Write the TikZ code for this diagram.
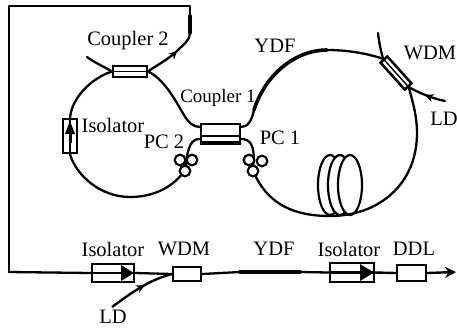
\documentclass[tikz,border=0pt]{standalone}
\usepackage{fontspec}
\setmainfont{Liberation Serif}
\usetikzlibrary{arrows.meta,decorations.markings}
\tikzset{
 fib/.style={line width=2.3pt,line cap=round,line join=round},
 thickfib/.style={line width=3.6pt,line cap=round},
 box/.style={draw,line width=2.4pt,fill=white,inner sep=0pt,minimum width=#1},
 box/.default=30pt,
 lab/.style={font=\fontsize{20.5}{21}\selectfont,inner sep=0pt},
 pc/.style={circle,draw,line width=2pt,fill=white,minimum size=10.5pt,inner sep=0pt},
 coil/.style={draw,line width=2.2pt,fill=white},
 tipmid/.style={postaction={decorate},decoration={markings,mark=at position #1 with {\arrow{Stealth[length=9pt,width=8pt]}}}}
}
\begin{document}
\begin{tikzpicture}[x=1pt,y=-1pt]
\useasboundingbox (0,0) rectangle (457,327);
% coordinates
\coordinate (outA) at (9,272);
\coordinate (outB) at (9,6);
\coordinate (outC) at (190,6);
\coordinate (outD) at (190,33);
\coordinate (tailC) at (87,57);
\coordinate (wdmtail) at (378,33);
\coordinate (ldR) at (445,101);
\coordinate (ldB) at (112,307);
\coordinate (outEnd) at (456,272);
\coordinate (yS) at (240,272);
\coordinate (yE) at (300,272);
% coil
\foreach \cx in {330,340,350}{
 \draw[coil] (\cx,185) ellipse [x radius=12,y radius=30];
}
% boxes
\node[box=34pt,minimum height=11pt] (c2) at (130,71.5) {};
\node[box=39pt,minimum height=18pt] (c1) at (220.5,133) {};
\node[box=14pt,minimum height=34pt] (iso) at (70,136) {};
\node[box=36pt,minimum height=9pt,rotate=-48] (wdm) at (396,73) {};
\node[box=42pt,minimum height=18pt] (isoB) at (113,273) {};
\node[box=28pt,minimum height=14pt] (wdmB) at (187,274) {};
\node[box=44pt,minimum height=19pt] (isoC) at (352,272.5) {};
\node[box=29pt,minimum height=16pt] (ddl) at (411.5,273) {};
% polarization controllers
\node[pc] (p2a) at (180,160) {};
\node[pc] (p2b) at (192,160) {};
\node[pc] (p2c) at (185,171) {};
\node[pc] (p1a) at (249,160) {};
\node[pc] (p1b) at (262,161) {};
\node[pc] (p1c) at (253,171) {};
% fibres
\draw[fib] (outA) -- (isoB.west);
\draw[fib] (outA) -- (outB) -- (outC) -- (outD);
\draw[fib,tipmid=0.62] (c2.east) .. controls (155,66) and (168,60) .. (178,50)
  .. controls (184,44) and (190,40) .. (outD);
\draw[thickfib] (190,16) -- (outD);
\draw[fib] (tailC) .. controls (95,63) and (105,67) .. (c2.west);
\draw[fib] (c2.west) .. controls (92,78) and (72,97) .. (iso.north);
\draw[fib] (iso.south) .. controls (76,175) and (100,197) .. (130,197)
  .. controls (150,197) and (168,190) .. (p2c);
\draw[fib] (c2.east) .. controls (165,80) and (175,100) .. (184,115)
  .. controls (188,122) and (193,127) .. ([yshift=6pt]c1.west);
\draw[fib] ([yshift=6pt]c1.east) .. controls (248,127) and (252,120) .. (254,110);
\draw[thickfib] (254,110) .. controls (265,75) and (295,50) .. (327,50);
\draw[fib] (327,50) .. controls (350,50) and (368,54) .. (wdm.west);
\draw[fib] (wdm.east) .. controls (412,100) and (417,115) .. (417,133)
  .. controls (417,185) and (378,216) .. (330,216)
  .. controls (295,216) and (270,205) .. (p1c);
\draw[fib] (wdmtail) .. controls (379,42) and (381,52) .. (wdm.west);
\draw[fib,tipmid=0.55] (ldR) .. controls (430,98) and (418,92) .. (wdm.east);
\draw[fib] ([yshift=-6pt]c1.west) .. controls (192,139) and (188,145) .. (p2c);
\draw[fib] ([yshift=-6pt]c1.east) .. controls (250,139) and (255,145) .. (p1c);
\draw[fib] (isoB.east) -- (wdmB.west);
\draw[fib] (wdmB.east) -- (yS);
\draw[thickfib] (yS) -- (yE);
\draw[fib] (yE) -- (isoC.west);
\draw[line width=2.4pt] (isoC.east) -- (ddl.west);
\draw[line width=2.4pt,-{Stealth[length=11pt,width=11pt]}] (ddl.east) -- (outEnd);
\draw[line width=2.4pt,tipmid=0.58] (ldB) .. controls (135,290) and (150,280) .. (wdmB.west);
% redraw PC and boxes on top
\foreach \x/\y in {180/160,192/160,185/171,249/160,262/161,253/171}{
 \node[pc] at (\x,\y) {};
}
\node[box=34pt,minimum height=11pt] at (c2) {};
\draw[line width=1.4pt] (c2.west) -- (c2.east);
\node[box=39pt,minimum height=18pt] at (c1) {};
\draw[line width=3pt] (c1.south west) -- (c1.south east);
\draw[line width=1.2pt] ([yshift=-3pt]c1.west) -- ([yshift=-3pt]c1.east);
\node[box=36pt,minimum height=9pt,rotate=-48] at (wdm) {};
\draw[line width=1.4pt] (wdm.west) -- (wdm.east);
\node[box=14pt,minimum height=34pt] at (iso) {};
\draw[line width=2pt] (iso.north) -- (iso.south);
\fill (70,121) -- (65,134) -- (75,134) -- cycle;
\draw[line width=3pt] (70,130) -- (70,143);
\node[box=42pt,minimum height=18pt] at (isoB) {};
\draw[fib] (isoB.west) -- (isoB.east);
\fill (121,265) -- (134,273) -- (121,281) -- cycle;
\node[box=44pt,minimum height=19pt] at (isoC) {};
\draw[line width=2.4pt] (isoC.west) -- (isoC.east);
\fill (360,264) -- (374,272.5) -- (360,281) -- cycle;
\node[box=28pt,minimum height=14pt] at (wdmB) {};
\node[box=29pt,minimum height=16pt] at (ddl) {};
% labels
\node[lab] (tC2) at (128,41) {Coupler 2};
\node[lab] (tIso) at (113,125) {Isolator};
\node[lab] (tP2) at (164,142) {PC 2};
\node[lab,font=\fontsize{19}{20}\selectfont] (tC1) at (218,98) {Coupler 1};
\node[lab] (tY) at (275,46) {YDF};
\node[lab] (tW) at (430,53) {WDM};
\node[lab] (tLD) at (444,119) {LD};
\node[lab] (tP1) at (280,138) {PC 1};
\node[lab] (tIb) at (113,249) {Isolator};
\node[lab] (tWb) at (184,249) {WDM};
\node[lab] (tLb) at (113,317) {LD};
\node[lab] (tYb) at (274,249) {YDF};
\node[lab] (tIc) at (349,249) {Isolator};
\node[lab] (tD) at (414,249) {DDL};
\end{tikzpicture}
\end{document}
